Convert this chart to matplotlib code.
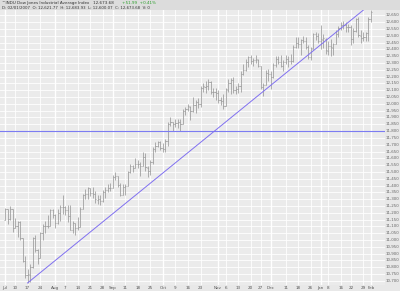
import matplotlib
matplotlib.use("Agg")
import matplotlib.pyplot as plt
from matplotlib.collections import LineCollection
import pandas as pd

# ---------------- data ----------------
holidays = ["2006-07-04", "2006-09-04", "2006-11-23", "2006-12-25",
            "2007-01-01", "2007-01-02", "2007-01-15"]
dates = [d for d in pd.bdate_range("2006-07-03", "2007-02-01")
         if d.strftime("%Y-%m-%d") not in holidays]

opens = [11150, 11226, 11151, 11224, 11090, 11102, 11134, 11011, 10846, 10739,
         10746, 10799, 11011, 10926, 10869, 11050, 11103, 11103, 11100, 11219,
         11184, 11125, 11198, 11242, 11240, 11219, 11173, 11076, 11124, 11088,
         11098, 11230, 11327, 11335, 11380, 11345, 11340, 11297, 11304, 11284,
         11352, 11370, 11383, 11381, 11464, 11468, 11405, 11331, 11392, 11397,
         11498, 11542, 11527, 11560, 11555, 11541, 11612, 11532, 11508, 11575,
         11669, 11688, 11718, 11679, 11670, 11727, 11850, 11866, 11850, 11857,
         11866, 11852, 11947, 11960, 11980, 11950, 11992, 12011, 12002, 12116,
         12127, 12134, 12163, 12090, 12086, 12080, 12030, 12018, 11986, 12105,
         12156, 12176, 12103, 12108, 12131, 12217, 12251, 12305, 12342, 12316,
         12321, 12326, 12280, 12121, 12136, 12226, 12221, 12194, 12283, 12331,
         12309, 12278, 12307, 12328, 12316, 12317, 12416, 12445, 12441, 12471,
         12463, 12421, 12343, 12407, 12510, 12501, 12459, 12473, 12480, 12392,
         12424, 12412, 12443, 12514, 12556, 12582, 12577, 12567, 12565, 12477,
         12534, 12621, 12502, 12487, 12490, 12522, 12622]
highs = [11235, 11228, 11250, 11230, 11160, 11140, 11140, 11015, 10880, 10790,
         10820, 11020, 11040, 10935, 11060, 11120, 11140, 11180, 11225, 11225,
         11190, 11230, 11260, 11330, 11250, 11260, 11255, 11140, 11125, 11170,
         11240, 11340, 11375, 11390, 11385, 11390, 11360, 11330, 11330, 11370,
         11390, 11410, 11420, 11480, 11500, 11470, 11415, 11410, 11410, 11510,
         11560, 11550, 11605, 11590, 11570, 11650, 11640, 11540, 11590, 11680,
         11720, 11730, 11725, 11710, 11740, 11870, 11900, 11870, 11890, 11890,
         11890, 11960, 11980, 12000, 11985, 12050, 12030, 12040, 12130, 12150,
         12170, 12180, 12170, 12120, 12120, 12100, 12050, 12070, 12120, 12180,
         12190, 12200, 12130, 12150, 12240, 12290, 12330, 12350, 12360, 12340,
         12360, 12330, 12280, 12150, 12250, 12260, 12240, 12300, 12350, 12350,
         12360, 12320, 12360, 12350, 12370, 12430, 12490, 12490, 12480, 12500,
         12490, 12430, 12420, 12520, 12530, 12520, 12580, 12510, 12482, 12460,
         12480, 12450, 12540, 12570, 12600, 12610, 12600, 12590, 12580, 12560,
         12630, 12640, 12540, 12530, 12530, 12640, 12690]
lows = [11145, 11120, 11150, 11060, 11085, 11020, 11000, 10835, 10720, 10684,
        10690, 10795, 10910, 10820, 10868, 11000, 11050, 11085, 11100, 11160,
        11085, 11120, 11140, 11190, 11180, 11130, 11070, 11050, 11040, 11075,
        11098, 11228, 11300, 11300, 11320, 11310, 11270, 11265, 11260, 11280,
        11310, 11350, 11360, 11381, 11440, 11390, 11320, 11330, 11330, 11396,
        11490, 11500, 11527, 11530, 11470, 11540, 11510, 11460, 11480, 11560,
        11650, 11680, 11660, 11650, 11650, 11690, 11840, 11800, 11830, 11820,
        11800, 11852, 11920, 11950, 11880, 11940, 11930, 11970, 11980, 12090,
        12080, 12100, 12070, 12050, 12030, 12010, 11990, 11960, 11986, 12090,
        12070, 12080, 12070, 12080, 12090, 12210, 12240, 12270, 12290, 12280,
        12300, 12270, 12110, 12060, 12136, 12170, 12110, 12190, 12270, 12290,
        12270, 12240, 12290, 12270, 12290, 12310, 12410, 12410, 12360, 12450,
        12400, 12330, 12320, 12405, 12470, 12450, 12400, 12410, 12370, 12360,
        12350, 12360, 12440, 12490, 12540, 12550, 12530, 12530, 12430, 12450,
        12530, 12490, 12450, 12460, 12460, 12460, 12600]
closes = [11228, 11151, 11225, 11091, 11104, 11135, 11013, 10846, 10739, 10747,
          10799, 11011, 10928, 10868, 11051, 11104, 11103, 11100, 11220, 11186,
          11126, 11200, 11243, 11240, 11219, 11174, 11076, 11124, 11088, 11098,
          11230, 11327, 11335, 11381, 11345, 11340, 11298, 11304, 11284, 11352,
          11370, 11383, 11381, 11464, 11469, 11406, 11331, 11392, 11397, 11498,
          11543, 11527, 11561, 11555, 11540, 11613, 11533, 11508, 11576, 11669,
          11689, 11718, 11679, 11670, 11727, 11851, 11867, 11850, 11858, 11867,
          11852, 11948, 11961, 11981, 11950, 11993, 12012, 12002, 12117, 12128,
          12135, 12164, 12090, 12086, 12081, 12031, 12019, 11986, 12106, 12157,
          12177, 12103, 12108, 12132, 12218, 12252, 12306, 12343, 12317, 12322,
          12327, 12280, 12122, 12136, 12227, 12222, 12194, 12284, 12332, 12309,
          12278, 12307, 12328, 12316, 12318, 12417, 12446, 12441, 12471, 12464,
          12421, 12343, 12408, 12511, 12502, 12463, 12475, 12481, 12398, 12423,
          12417, 12442, 12515, 12556, 12583, 12577, 12568, 12566, 12477, 12534,
          12622, 12503, 12487, 12491, 12523, 12622, 12674]

tick_dates = ["2006-07-03", "2006-07-10", "2006-07-17", "2006-07-24",
              "2006-08-01", "2006-08-07", "2006-08-14", "2006-08-21", "2006-08-28",
              "2006-09-01", "2006-09-11", "2006-09-18", "2006-09-25",
              "2006-10-02", "2006-10-09", "2006-10-16", "2006-10-23",
              "2006-11-01", "2006-11-06", "2006-11-13", "2006-11-20", "2006-11-27",
              "2006-12-01", "2006-12-11", "2006-12-18", "2006-12-26",
              "2007-01-03", "2007-01-08", "2007-01-16", "2007-01-22", "2007-01-29",
              "2007-02-01"]
tick_labels = ["Jul", "10", "17", "24", "Aug", "7", "14", "21", "28",
               "Sep", "11", "18", "25", "Oct", "9", "16", "23",
               "Nov", "6", "13", "20", "27", "Dec", "11", "18", "26",
               "Jan", "8", "16", "22", "29", "Feb"]

y_ticks = list(range(10700, 12651, 50))
hline_level = 11800
trend_dates = ["2006-07-17", "2007-01-29"]
trend_values = [10684, 12690]

title_name = "^INDU Dow Jones Industrial Average Index"
title_last = "12,673.68"
title_change = "+51.99  +0.41%"
info_line = "D: 02/01/2007  O: 12,621.77  H: 12,683.93  L: 12,600.07  C: 12,673.68  V: 0"

# ---------------- drawing ----------------
W, H = 400, 291
fig = plt.figure(figsize=(W / 100, H / 100), dpi=100)
fig.patch.set_facecolor("#e8e8e8")

ax_l, ax_r, ax_t, ax_b = 0, 385, 10, 285
ax = fig.add_axes([ax_l / W, 1 - ax_b / H, (ax_r - ax_l) / W, (ax_b - ax_t) / H])
ax.set_facecolor("#ebebeb")

pos = {d.strftime("%Y-%m-%d"): i for i, d in enumerate(dates)}
n = len(dates)

ylo, yhi = 10669, 12690
ax.set_xlim(-2.0, 151.6)
ax.set_ylim(ylo, yhi)

# grid
for v in y_ticks:
    if v != hline_level:
        ax.axhline(v, color="white", lw=0.6, zorder=1)
for td, tl in zip(tick_dates, tick_labels):
    is_month = not tl.isdigit()
    ax.axvline(pos[td], color="white", lw=1.0 if is_month else 0.6, zorder=1)

# OHLC bars
segs = []
for i in range(n):
    segs.append([(i, lows[i]), (i, highs[i])])
    segs.append([(i - 0.45, opens[i]), (i, opens[i])])
    segs.append([(i, closes[i]), (i + 0.45, closes[i])])
ax.add_collection(LineCollection(segs, colors="#9a9a9a", linewidths=0.55, zorder=3))

# lines
ax.axhline(hline_level, color="#7c7cf2", lw=0.8, zorder=4)
ax.plot([pos[d] for d in trend_dates], trend_values, color="#8070f0", lw=0.7, zorder=4)

for s in ax.spines.values():
    s.set_visible(False)
ax.set_xticks([])
ax.set_yticks([])

# y labels on right
for v in y_ticks:
    fig.text(386 / W, 1 - (ax_t + (yhi - v) / (yhi - ylo) * (ax_b - ax_t)) / H, f"{v:,}",
             fontsize=2.9, color="#666666", va="center", ha="left")
# x labels at bottom
for td, tl in zip(tick_dates, tick_labels):
    ax.text(pos[td], -0.004, tl, transform=ax.get_xaxis_transform(),
            fontsize=3.0, color="#555555", va="top", ha="center")

# header
fig.patches.append(plt.Rectangle((0, 1 - ax_t / H), 1, ax_t / H, transform=fig.transFigure,
                                 facecolor="#dcdcdc", edgecolor="none", zorder=0))
fig.text(2 / W, 1 - 3.3 / H, title_name + "   " + title_last, fontsize=3.0,
         color="#333333", va="center", ha="left")
fig.text(122 / W, 1 - 3.3 / H, title_change, fontsize=3.0, color="#2ca02c",
         va="center", ha="left")
fig.text(2 / W, 1 - 8.3 / H, info_line, fontsize=2.8, color="#333333",
         va="center", ha="left")

fig.savefig("out.png", dpi=100, facecolor=fig.get_facecolor())
